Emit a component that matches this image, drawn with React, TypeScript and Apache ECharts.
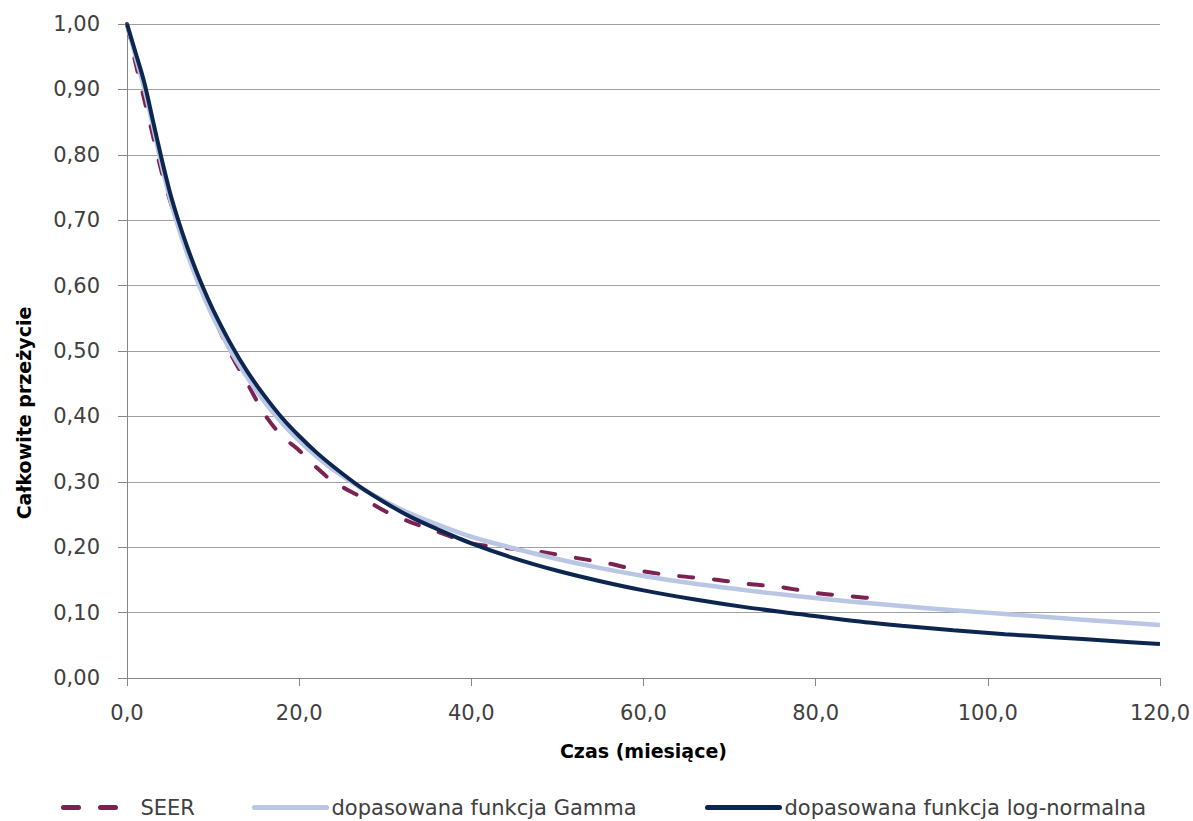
import React, { useEffect, useRef } from "react";
import * as echarts from "echarts";

// Months at which the fitted curves were read
const fitMonths = [0, 1, 2, 3, 4, 5, 6, 7, 8, 9, 10, 12, 14, 16, 18, 20, 22, 24, 27, 30, 33, 36, 40, 45, 50, 55, 60, 66, 72, 78, 84, 90, 96, 102, 108, 114, 120];
const logNormal = [1.0, 0.956, 0.911, 0.853, 0.795, 0.742, 0.698, 0.659, 0.624, 0.592, 0.563, 0.512, 0.468, 0.431, 0.398, 0.37, 0.345, 0.323, 0.293, 0.268, 0.246, 0.228, 0.206, 0.183, 0.164, 0.148, 0.134, 0.12, 0.108, 0.098, 0.088, 0.08, 0.073, 0.067, 0.062, 0.057, 0.052];
const gamma = [1.0, 0.95, 0.902, 0.845, 0.786, 0.733, 0.688, 0.649, 0.613, 0.581, 0.552, 0.501, 0.459, 0.422, 0.39, 0.363, 0.339, 0.318, 0.292, 0.27, 0.251, 0.235, 0.216, 0.198, 0.182, 0.168, 0.156, 0.144, 0.134, 0.125, 0.117, 0.11, 0.1035, 0.098, 0.092, 0.0865, 0.081];

// SEER observed survival
const seerMonths = [0, 1, 2, 3, 4, 5, 6, 8, 10, 12, 14, 16, 18, 20, 22, 24, 27, 30, 33, 36, 40, 44, 48, 52, 56, 60, 64, 68, 72, 76, 80, 84, 88];
const seer = [1.0, 0.94, 0.885, 0.83, 0.775, 0.73, 0.69, 0.62, 0.555, 0.497, 0.45, 0.403, 0.37, 0.348, 0.322, 0.3, 0.278, 0.255, 0.238, 0.224, 0.206, 0.199, 0.193, 0.184, 0.175, 0.163, 0.156, 0.151, 0.144, 0.139, 0.13, 0.125, 0.12];

const seriesNames = ["SEER", "dopasowana funkcja Gamma", "dopasowana funkcja log-normalna"];
const xTitle = "Czas (miesiące)";
const yTitle = "Całkowite przeżycie";

const FONT = "DejaVu Sans";

export default function App() {
  const ref = useRef<HTMLDivElement>(null);
  useEffect(() => {
    if (!ref.current) return;
    const chart = echarts.init(ref.current, undefined, { renderer: "svg" });
    const pair = (xs: number[], ys: number[]) => xs.map((x, i) => [x, ys[i]]);
    const legendText = { fontSize: 21, fontFamily: FONT, color: "#404040" };
    const legendBase = {
      top: 797,
      padding: 0,
      itemWidth: 72,
      itemHeight: 14,
      textStyle: legendText,
      selectedMode: false as const,
      itemStyle: { opacity: 0, color: "rgba(0,0,0,0)", borderWidth: 0 },
    };
    chart.setOption({
      animation: false,
      backgroundColor: "#ffffff",
      grid: { left: 127, right: 30, top: 24, bottom: 143, containLabel: false },
      xAxis: {
        type: "value",
        min: 0,
        max: 120,
        interval: 20,
        name: xTitle,
        nameLocation: "middle",
        nameGap: 63,
        nameTextStyle: { fontSize: 19, fontWeight: "bold", fontFamily: FONT, color: "#000000" },
        axisLine: { show: true, lineStyle: { color: "#868686", width: 1 } },
        axisTick: { show: true, length: 8, lineStyle: { color: "#868686" } },
        axisLabel: {
          margin: 24,
          fontSize: 21,
          fontFamily: FONT,
          color: "#404040",
          formatter: (v: number) => v.toFixed(1).replace(".", ","),
        },
        splitLine: { show: false },
      },
      yAxis: {
        type: "value",
        min: 0,
        max: 1,
        interval: 0.1,
        axisLine: { show: true, lineStyle: { color: "#868686", width: 1 } },
        axisTick: { show: true, length: 9, lineStyle: { color: "#868686" } },
        axisLabel: {
          margin: 27,
          fontSize: 21,
          fontFamily: FONT,
          color: "#404040",
          formatter: (v: number) => v.toFixed(2).replace(".", ","),
        },
        splitLine: { show: true, lineStyle: { color: "#a0a0a0", width: 1 } },
      },
      legend: [
        { ...legendBase, left: 61, data: [seriesNames[0]], lineStyle: { width: 5, type: [15, 22], cap: "round" } },
        { ...legendBase, left: 252, data: [seriesNames[1]], lineStyle: { width: 5, type: "solid", cap: "round" } },
        { ...legendBase, left: 705, data: [seriesNames[2]], lineStyle: { width: 5, type: "solid", cap: "round" } },
      ],
      graphic: [
        {
          type: "text",
          x: 24,
          y: 413,
          rotation: Math.PI / 2,
          style: {
            text: yTitle,
            fontSize: 19,
            fontWeight: "bold",
            fontFamily: FONT,
            fill: "#000000",
            align: "center",
            verticalAlign: "middle",
          },
        },
      ],
      series: [
        {
          name: seriesNames[0],
          type: "line",
          data: pair(seerMonths, seer),
          symbol: "none",
          smooth: 0.3,
          color: "#7b2250",
          lineStyle: { color: "#7b2250", width: 4, type: [14, 21], cap: "round" },
          z: 2,
        },
        {
          name: seriesNames[1],
          type: "line",
          data: pair(fitMonths, gamma),
          symbol: "none",
          smooth: 0.3,
          color: "#b9c6e4",
          lineStyle: { color: "#b9c6e4", width: 4.5 },
          z: 3,
        },
        {
          name: seriesNames[2],
          type: "line",
          data: pair(fitMonths, logNormal),
          symbol: "none",
          smooth: 0.3,
          color: "#0d2650",
          lineStyle: { color: "#0d2650", width: 4 },
          z: 4,
        },
      ],
    });
    return () => chart.dispose();
  }, []);
  return <div ref={ref} style={{ position: "fixed", left: 0, top: 0, width: 1193, height: 821 }} />;
}
